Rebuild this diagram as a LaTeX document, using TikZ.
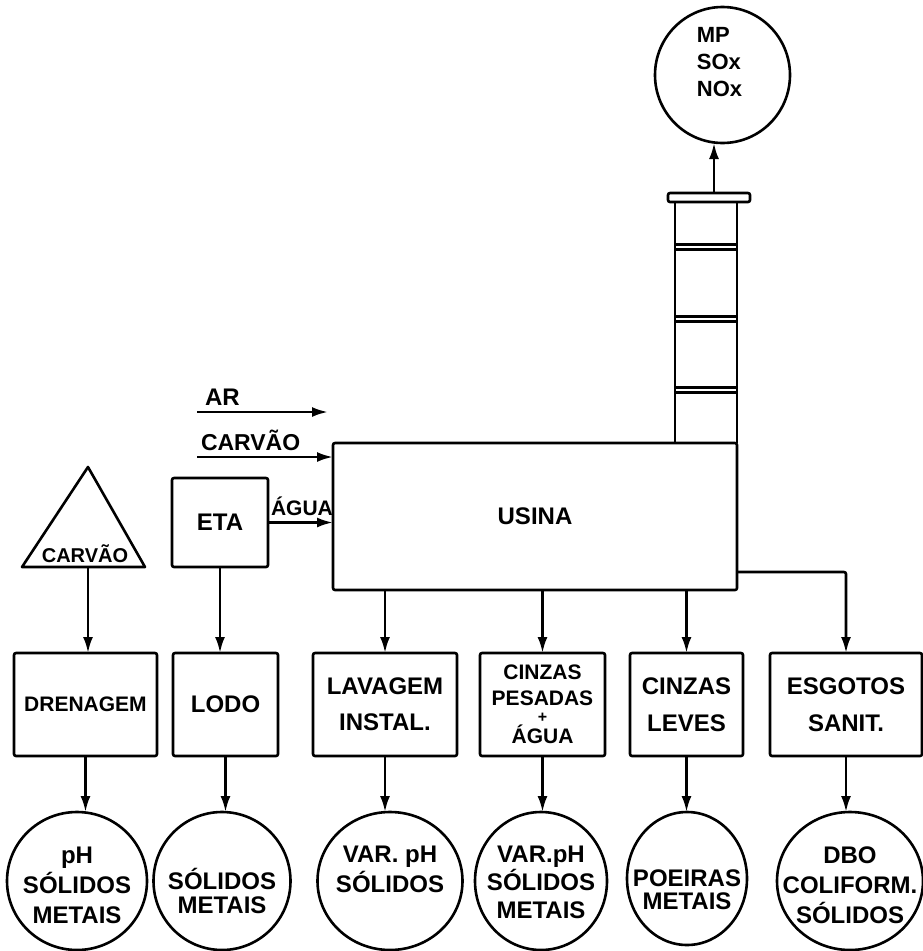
\documentclass[tikz,border=0pt]{standalone}
\usepackage{fontspec}
\setmainfont{Liberation Sans}
\usetikzlibrary{arrows.meta,calc,shapes.geometric}
\newcommand\bigtxt{\fontsize{24}{28}\selectfont\bfseries}
\begin{document}
\begin{tikzpicture}[x=1pt,y=-1pt,
  every node/.style={inner sep=0pt,outer sep=0pt},
  ln/.style={line width=2.6pt,line join=round},
  txt/.style={font=\bigtxt,align=center},
  box/.style={draw,ln,rounded corners=2pt,txt,minimum height=103pt},
  circ/.style={draw,ln,ellipse,minimum height=138pt},
  arr/.style={ln,-{Latex[length=16pt,width=10pt]}}]
\useasboundingbox (0,0) rectangle (923,951);

% main plant
\node[box,minimum width=404pt,minimum height=147pt] (usina) at (535,516.5) {USINA};
\node[box,minimum width=96pt,minimum height=89pt] (eta) at (220,522.5) {ETA};

% chimney
\draw[ln,rounded corners=2pt] (668,193) rectangle (750,202);
\draw[ln] (675,202) -- (675,443);
\draw[ln] (737,202) -- (737,443);
\foreach \yy in {244.5,249.5,316.5,321.5,387.5,392.5}
  \draw[line width=2.2pt] (675,\yy) -- (737,\yy);
\coordinate (chim) at (714,193);

% stack emissions
\node[circ,minimum width=135pt,minimum height=136pt,
  label={[txt,align=left,font=\fontsize{22}{27}\selectfont\bfseries,yshift=13pt,xshift=-3pt]center:{MP\\SOx\\NOx}}] (top) at (722.5,75) {};
\draw[arr] (chim) -- (chim |- top.south);

% inputs
\coordinate (arS) at (197,412);
\coordinate (arE) at (328,412);
\draw[arr] (arS) -- (arE);
\node[txt,anchor=base west] (arL) at (205,405) {AR};
\coordinate (carS) at (197,457);
\draw[arr] (carS) -- (carS -| usina.west);
\node[txt,font=\fontsize{23}{28}\selectfont\bfseries,anchor=base west] (carL) at (201,450) {CARVÃO};
\draw[arr] (eta.east) -- (eta.east -| usina.west);
\node[txt,font=\fontsize{21}{28}\selectfont\bfseries,anchor=base west] (aguaL) at (271,515) {ÁGUA};

% coal pile
\draw[ln] (22,567) -- (88,467) -- (145,567) -- cycle;
\coordinate (triB) at (88,567);
\node[txt,font=\fontsize{20}{24}\selectfont\bfseries,anchor=base] (triL) at (85,562) {CARVÃO};

% second row boxes
\node[box,minimum width=143pt,font=\fontsize{21}{26}\selectfont\bfseries] (dren) at (85.5,704.5) {DRENAGEM};
\node[box,minimum width=105pt] (lodo) at (225.5,704.5) {LODO};
\node[box,minimum width=144pt] (lav) at (385,704.5) {LAVAGEM\\[8pt]INSTAL.};
\node[box,minimum width=125pt,font=\fontsize{21}{26}\selectfont\bfseries] (cp) at (542.5,704.5) {CINZAS\\PESADAS\\[-9pt]{\fontsize{16}{16}\selectfont +}\\[-5pt]ÁGUA};
\node[box,minimum width=113pt] (cl) at (686.5,704.5) {CINZAS\\[9pt]LEVES};
\node[box,minimum width=152pt] (esg) at (846,704.5) {ESGOTOS\\[9pt]SANIT.};

% effluent circles
\node[circ,minimum width=140pt,label={[txt,yshift=-4pt]center:{pH\\[2pt]SÓLIDOS\\[2pt]METAIS}}] (c1) at (77,881) {};
\node[circ,minimum width=137pt,label={[txt,yshift=-10pt]center:{SÓLIDOS\\[-4pt]METAIS}}] (c2) at (222,881) {};
\node[circ,minimum width=145pt,label={[txt,yshift=12pt]center:{VAR. pH\\[2pt]SÓLIDOS}}] (c3) at (390,881) {};
\node[circ,minimum width=132pt,label={[txt,yshift=-1pt]center:{VAR.pH\\SÓLIDOS\\METAIS}}] (c4) at (541,881) {};
\node[circ,minimum width=120pt,minimum height=133pt,label={[txt,yshift=-11pt]center:{POEIRAS\\[-5pt]METAIS}}] (c5) at (687,878.5) {};
\node[circ,minimum width=146pt,label={[txt,yshift=-4pt]center:{DBO\\[2pt]COLIFORM.\\[2pt]SÓLIDOS}}] (c6) at (850,881) {};

% connectors
\draw[arr] (triB) -- (triB |- dren.north);
\draw[arr] (eta.south) -- (eta.south |- lodo.north);
\draw[arr] (usina.south -| lav.north) -- (lav.north);
\draw[arr] (usina.south -| cp.north) -- (cp.north);
\draw[arr] (usina.south -| cl.north) -- (cl.north);
\coordinate (esgT) at (737,572);
\draw[arr,rounded corners=2pt] (esgT) -| (esg.north);

\draw[arr] (dren.south) -- (dren.south |- c1.north);
\draw[arr] (lodo.south) -- (lodo.south |- c2.north);
\draw[arr] (lav.south) -- (lav.south |- c3.north);
\draw[arr] (cp.south) -- (cp.south |- c4.north);
\draw[arr] (cl.south) -- (cl.south |- c5.north);
\draw[arr] (esg.south) -- (esg.south |- c6.north);
\end{tikzpicture}
\end{document}
